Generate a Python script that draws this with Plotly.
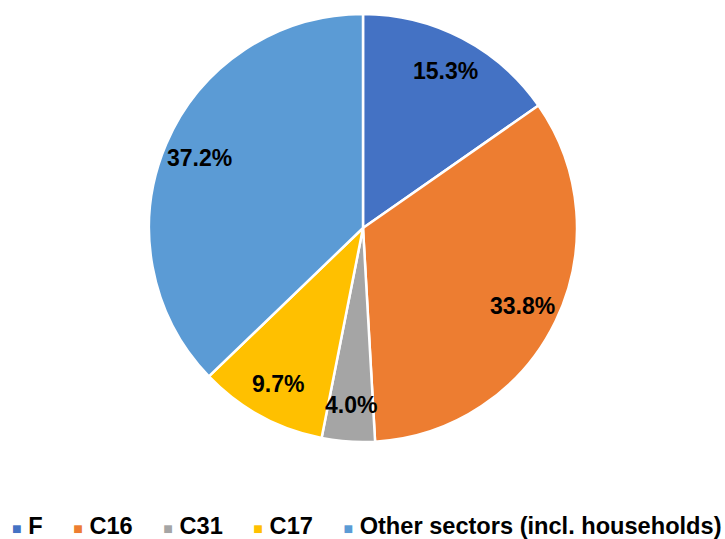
import math
import plotly.graph_objects as go

labels = ["F", "C16", "C31", "C17", "Other sectors (incl. households)"]
values = [15.3, 33.8, 4.0, 9.7, 37.2]
colors = ["#4472C4", "#ED7D31", "#A5A5A5", "#FFC000", "#5B9BD5"]
text_labels = ["15.3%", "33.8%", "4.0%", "9.7%", "37.2%"]

W, H = 725, 539
cx, cy, r = 363, 228, 214  # pie centre / radius in pixels
FONT = "Liberation Sans, Arial, sans-serif"

fig = go.Figure()
fig.add_trace(go.Pie(
    labels=labels,
    values=values,
    sort=False,
    direction="clockwise",
    rotation=0,
    textinfo="none",
    hoverinfo="label+percent",
    showlegend=False,
    marker=dict(colors=colors, line=dict(color="white", width=2.5)),
    domain=dict(x=[(cx - r) / W, (cx + r) / W], y=[1 - (cy + r) / H, 1 - (cy - r) / H]),
))

# data labels placed at the mid-angle of each slice
total = sum(values)
cum = 0.0
annotations = []
for v, t in zip(values, text_labels):
    mid = (cum + v / 2) / total * 2 * math.pi
    cum += v
    rr = 0.83 * r
    px = cx + rr * math.sin(mid)
    py = cy - rr * math.cos(mid)
    annotations.append(dict(
        x=px / W, y=1 - py / H, xref="paper", yref="paper",
        text=t, showarrow=False,
        font=dict(family=FONT, size=23, color="black", weight="bold"),
        xanchor="center", yanchor="middle",
    ))

# legend row (Excel-style small square keys)
sep = '<span style="font-size:22px">' + "&nbsp;" * 5 + "</span>"
legend_text = sep.join(
    f'<span style="color:{c};font-size:16px">■</span>&nbsp;{lab}'
    for c, lab in zip(colors, labels)
)
annotations.append(dict(
    x=(W / 2 + 4) / W, y=1 - 525.5 / H, xref="paper", yref="paper",
    text=legend_text, showarrow=False,
    font=dict(family=FONT, size=23.6, color="black", weight="bold"),
    xanchor="center", yanchor="middle",
))

fig.update_layout(
    width=W, height=H,
    margin=dict(l=0, r=0, t=0, b=0),
    paper_bgcolor="white",
    plot_bgcolor="white",
    annotations=annotations,
    showlegend=False,
)

fig.write_html("out.html", config={"displayModeBar": False},
               post_script="document.body.style.margin='0';")
